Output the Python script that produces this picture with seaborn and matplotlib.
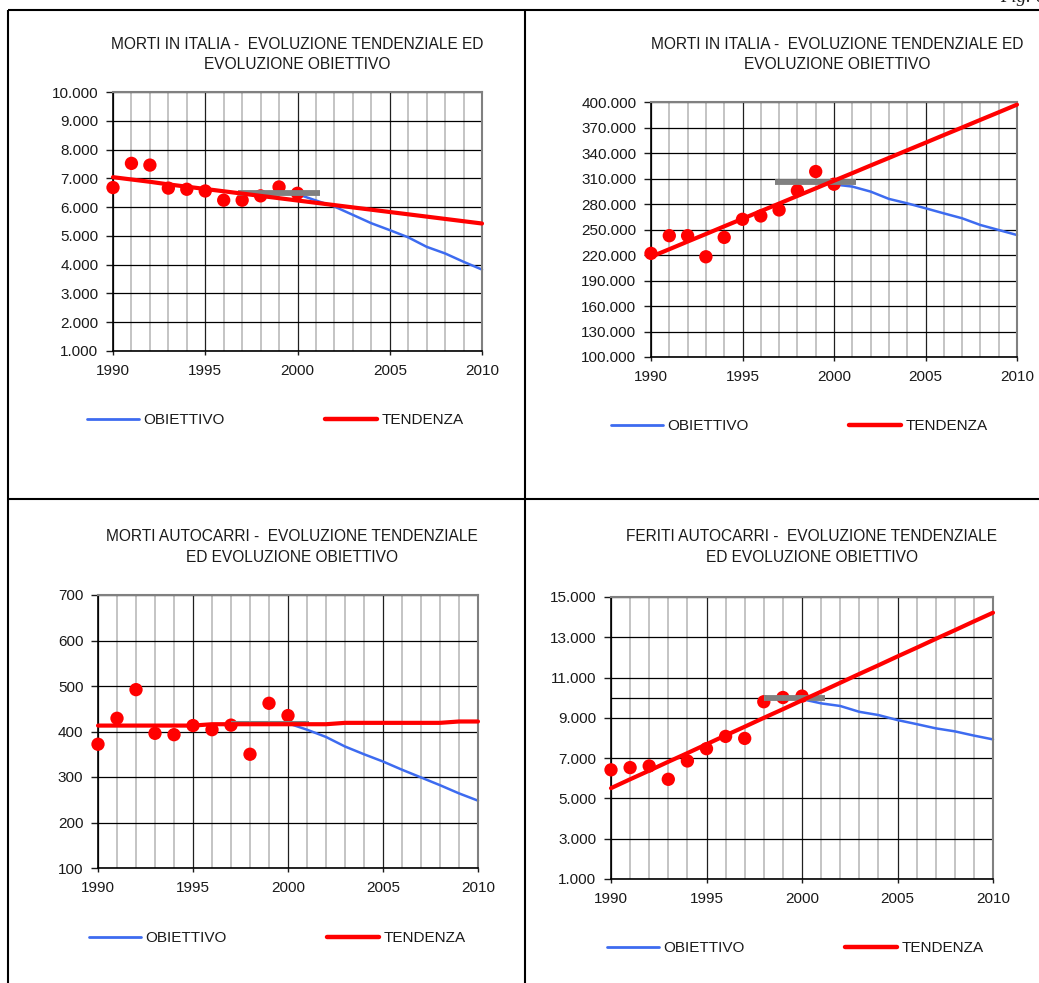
import matplotlib
matplotlib.use("Agg")
import matplotlib.pyplot as plt
import seaborn as sns
from matplotlib.lines import Line2D
from matplotlib.ticker import FuncFormatter, MultipleLocator

# --- data ---
years_obs = [1990, 1991, 1992, 1993, 1994, 1995, 1996, 1997, 1998, 1999, 2000]
years_all = list(range(1990, 2011))
years_obj = list(range(2000, 2011))
x_ticks = [1990, 1995, 2000, 2005, 2010]

# top-left: MORTI IN ITALIA
c1_dots = [6680, 7520, 7460, 6660, 6620, 6560, 6240, 6240, 6390, 6700, 6480]
c1_trend = [7040, 6960, 6880, 6790, 6710, 6630, 6550, 6470, 6390, 6310, 6230,
            6150, 6070, 5990, 5910, 5830, 5750, 5670, 5590, 5510, 5430]
c1_obj = [6450, 6230, 6020, 5730, 5440, 5200, 4950, 4620, 4390, 4100, 3830]
c1_base = [6500, 6500]
c1_base_years = [1996.8, 2001.2]
c1_yticks = [1000, 2000, 3000, 4000, 5000, 6000, 7000, 8000, 9000, 10000]

# top-right: MORTI IN ITALIA (second series)
c2_dots = [221900, 242700, 242700, 217900, 240700, 262000, 265900, 273000, 295800, 318200, 303300]
c2_trend = [217900, 226800, 235800, 244700, 253700, 262600, 271600, 280500, 289500, 298400, 307400,
            316300, 325300, 334200, 343200, 352100, 361100, 370000, 379000, 387900, 396900]
c2_obj = [303000, 300500, 294600, 286000, 280800, 275000, 269000, 263200, 255300, 249400, 243500]
c2_base = [305600, 305600]
c2_base_years = [1996.8, 2001.2]
c2_yticks = [100000, 130000, 160000, 190000, 220000, 250000, 280000, 310000, 340000, 370000, 400000]

# bottom-left: MORTI AUTOCARRI
c3_dots = [372, 429, 492, 396, 393, 413, 404, 414, 350, 462, 435]
c3_trend = [413, 413, 413, 413, 413, 413, 416, 416, 416, 416, 416,
            416, 416, 419, 419, 419, 419, 419, 419, 422, 422]
c3_obj = [418, 404, 388, 367, 350, 334, 316, 299, 282, 264, 248]
c3_base = [420, 420]
c3_base_years = [1997, 2001.1]
c3_yticks = [100, 200, 300, 400, 500, 600, 700]

# bottom-right: FERITI AUTOCARRI
c4_dots = [6420, 6530, 6610, 5950, 6860, 7470, 8080, 7980, 9800, 10010, 10080]
c4_trend = [5510, 5950, 6380, 6820, 7250, 7690, 8130, 8560, 9000, 9430, 9870,
            10300, 10740, 11180, 11610, 12050, 12480, 12920, 13350, 13790, 14220]
c4_obj = [9930, 9720, 9590, 9300, 9140, 8890, 8690, 8480, 8330, 8120, 7930]
c4_base = [10000, 10000]
c4_base_years = [1998, 2001.2]
c4_ref = 10000
c4_yticks = [1000, 3000, 5000, 7000, 9000, 11000, 13000, 15000]

title_a = ["MORTI IN ITALIA -  EVOLUZIONE TENDENZIALE ED", "EVOLUZIONE OBIETTIVO"]
title_c = ["MORTI AUTOCARRI -  EVOLUZIONE TENDENZIALE", "ED EVOLUZIONE OBIETTIVO"]
title_d = ["FERITI AUTOCARRI -  EVOLUZIONE TENDENZIALE", "ED EVOLUZIONE OBIETTIVO"]
legend_labels = ["OBIETTIVO", "TENDENZA"]

RED = "#ff0000"
BLUE = "#3d6bf0"
GRAY = "#808080"
TXT = "#1a1a1a"

W, H = 1039, 983

sns.set_style("white")
plt.rcParams["font.family"] = ["Liberation Sans", "DejaVu Sans"]

fig = plt.figure(figsize=(W / 100, H / 100), dpi=100)

# table borders around the four charts
bg = fig.add_axes([0, 0, 1, 1], zorder=-1)
bg.set_xlim(0, W)
bg.set_ylim(H, 0)
bg.axis("off")
for xs, ys in [([8, W], [9.5, 9.5]), ([8, 8], [9.5, H]), ([525, 525], [9.5, H]), ([8, W], [499, 499])]:
    bg.plot(xs, ys, color="black", lw=1.5, solid_capstyle="butt")
# page caption, cut by the top edge as in the scan
bg.text(1000, 2, "Fig. 6", family=["Liberation Serif", "DejaVu Serif"], style="italic",
        fontsize=13.5, va="baseline", ha="left", color=TXT)


def thousands(v, pos):
    return f"{int(round(v)):,}".replace(",", ".")


def panel(box, dots, trend, obj, base, base_years, base_lw, yticks, title, title_pos, leg_pos, ref=None):
    x0, y0, x1, y1 = box
    ax = fig.add_axes([x0 / W, 1 - y1 / H, (x1 - x0) / W, (y1 - y0) / H])

    sns.lineplot(x=years_obj, y=obj, ax=ax, color=BLUE, lw=1.8, zorder=2, clip_on=False)
    sns.scatterplot(x=years_obs, y=dots, ax=ax, color=RED, s=92, edgecolor="none", zorder=3, clip_on=False)
    sns.lineplot(x=base_years, y=base, ax=ax, color=GRAY, lw=base_lw, zorder=4, clip_on=False,
                 solid_capstyle="butt")
    sns.lineplot(x=years_all, y=trend, ax=ax, color=RED, lw=3.0, zorder=5, clip_on=False)
    if ref is not None:
        ax.axhline(ref, color="black", lw=0.9, zorder=1.5)

    ax.set_xlim(1990, 2010)
    ax.set_ylim(yticks[0], yticks[-1])
    ax.set_xticks(x_ticks)
    ax.xaxis.set_minor_locator(MultipleLocator(1))
    ax.set_yticks(yticks)
    if yticks[-1] >= 1000:
        ax.yaxis.set_major_formatter(FuncFormatter(thousands))
    ax.set_xlabel("")
    ax.set_ylabel("")

    # excel-like grid
    ax.set_axisbelow(True)
    ax.grid(which="minor", axis="x", color="#c4c4c4", lw=1.4)
    ax.grid(which="major", axis="x", color="#202020", lw=0.9)
    ax.grid(which="major", axis="y", color="black", lw=0.9)
    for side in ["left", "bottom"]:
        ax.spines[side].set_color("black")
        ax.spines[side].set_linewidth(1.2)
    for side in ["top", "right"]:
        ax.spines[side].set_color(GRAY)
        ax.spines[side].set_linewidth(1.5)
        ax.spines[side].set_visible(True)

    ax.tick_params(axis="x", which="major", length=3, width=1, pad=6.5, labelsize=11,
                   colors=TXT, direction="out", bottom=True)
    ax.tick_params(axis="x", which="minor", length=0)
    ax.tick_params(axis="y", length=5, width=1, pad=5.5, labelsize=11, colors=TXT,
                   direction="out", left=True)

    # two-line title
    tx, ty1, ty2 = title_pos
    fig.text(tx / W, 1 - ty1 / H, title[0], ha="center", va="baseline", fontsize=11.2, color=TXT)
    fig.text(tx / W, 1 - ty2 / H, title[1], ha="center", va="baseline", fontsize=11.2, color=TXT)

    # legend below the plot
    handles = [Line2D([], [], color=BLUE, lw=2.0, solid_capstyle="round"),
               Line2D([], [], color=RED, lw=3.2, solid_capstyle="round")]
    lx, ly = leg_pos
    fig.legend(handles, legend_labels, loc="center left", bbox_to_anchor=(lx / W, 1 - ly / H),
               ncol=2, frameon=False, borderpad=0, borderaxespad=0, handlelength=3.4,
               handletextpad=0.28, columnspacing=6.6, fontsize=11, labelcolor=TXT)
    return ax


panel((113, 92, 482, 351), c1_dots, c1_trend, c1_obj, c1_base, c1_base_years, 4.2,
      c1_yticks, title_a, (297, 49, 69), (87, 420))
panel((651, 102, 1017, 357), c2_dots, c2_trend, c2_obj, c2_base, c2_base_years, 4.2,
      c2_yticks, title_a, (837, 49, 69), (611, 426))
panel((98, 595, 478, 868), c3_dots, c3_trend, c3_obj, c3_base, c3_base_years, 1.5,
      c3_yticks, title_c, (292, 541, 562), (89, 938))
panel((611, 597, 993, 879), c4_dots, c4_trend, c4_obj, c4_base, c4_base_years, 4.2,
      c4_yticks, title_d, (812, 541, 562), (607, 948), ref=c4_ref)

fig.savefig("out.png", dpi=100)
